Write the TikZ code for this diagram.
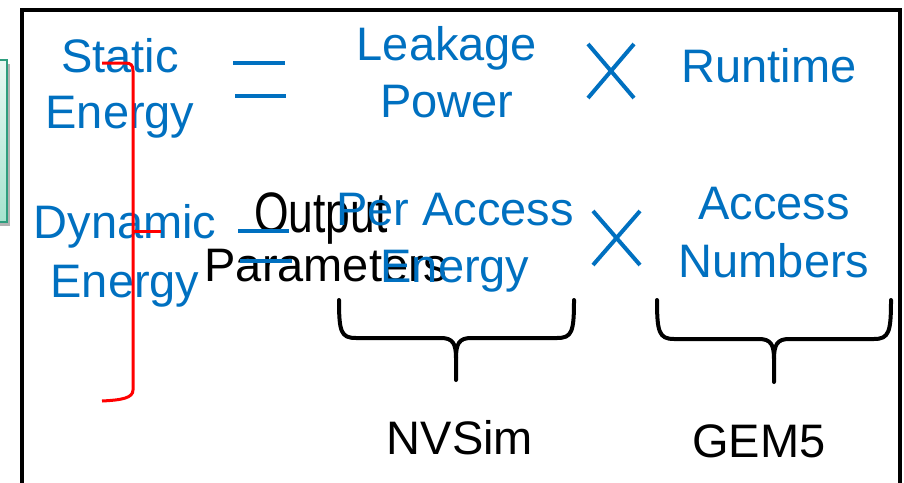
\documentclass[tikz,border=0pt]{standalone}
\usepackage{fontspec}
\setmainfont{Liberation Sans}
\definecolor{myblue}{HTML}{0070C0}
\definecolor{boxtop}{HTML}{E9F9F3}
\definecolor{boxbot}{HTML}{A6E3CE}
\definecolor{boxline}{HTML}{2E9E7E}
\begin{document}
\begin{tikzpicture}[x=1pt,y=-1pt,
  btext/.style={text=myblue, font=\fontsize{47}{56}\selectfont, inner sep=0pt, anchor=base},
  ktext/.style={text=black, font=\fontsize{47}{56}\selectfont, inner sep=0pt, anchor=base},
  bline/.style={draw=myblue, line width=4.5pt},
  bcross/.style={draw=myblue, line width=4pt},
  brace/.style={draw=black, line width=4pt, line cap=round, line join=round},
  redb/.style={draw=red, line width=3pt}]
\useasboundingbox (0,0) rectangle (904,482);
\clip (0,0) rectangle (904,482);
% green box (partly visible)
\fill[gray!60] (-20,64) rectangle (10,226);
\shade[top color=boxtop, bottom color=boxbot, draw=boxline, line width=1.5pt] (-20,60) rectangle (7,222);
% frame
\draw[line width=4pt] (22,520) -- (22,10) -- (900,10) -- (900,520);
% black texts
\node[ktext, font=\fontsize{57}{60}\selectfont] (out1) at (321,232) {\scalebox{0.78}[1]{Output}};
\node[ktext] (out2) at (326,281) {Parameters};
\node[ktext] (nvsim) at (460,454) {NVSim};
\node[ktext] (gem) at (759,457) {GEM5};
% braces
\coordinate (b1l) at (339,300);
\coordinate (b1r) at (574,300);
\coordinate (b1t) at (456,380);
\draw[brace] (b1l) .. controls (339,332) and (341,338) .. (356,338) -- (441,338) .. controls (453,338) and (456,344) .. (456,358) -- (b1t);
\draw[brace] (b1r) .. controls (574,332) and (572,338) .. (557,338) -- (471,338) .. controls (459,338) and (456,344) .. (456,358);
\coordinate (b2l) at (657,300);
\coordinate (b2r) at (891,300);
\coordinate (b2t) at (774,382);
\draw[brace] (b2l) .. controls (657,332) and (659,339) .. (674,339) -- (759,339) .. controls (771,339) and (774,345) .. (774,359) -- (b2t);
\draw[brace] (b2r) .. controls (891,332) and (889,339) .. (874,339) -- (789,339) .. controls (777,339) and (774,345) .. (774,359);
% blue texts
\node[btext] (st1) at (120,72) {Static};
\node[btext] (st2) at (120,128) {Energy};
\node[btext] (dy1) at (125,238) {Dynamic};
\node[btext] (dy2) at (125,297) {Energy};
\node[btext] (lk1) at (447,60) {Leakage};
\node[btext] (lk2) at (447,117) {Power};
\node[btext] (rt) at (769,82) {Runtime};
\node[btext] (pa1) at (455,225) {Per Access};
\node[btext] (pa2) at (455,282) {Energy};
\node[btext] (ac1) at (774,219) {Access};
\node[btext] (ac2) at (774,277) {Numbers};
% equals signs
\coordinate (e1a) at (233,63); \coordinate (e1b) at (285,63);
\coordinate (e1c) at (235,96); \coordinate (e1d) at (286,96);
\draw[bline] (e1a) -- (e1b);
\draw[bline] (e1c) -- (e1d);
\coordinate (e2a) at (238,231); \coordinate (e2b) at (289,231);
\coordinate (e2c) at (240,261); \coordinate (e2d) at (292,261);
\draw[bline] (e2a) -- (e2b);
\draw[bline] (e2c) -- (e2d);
% multiplication crosses
\coordinate (x1a) at (588,44); \coordinate (x1b) at (634,98);
\coordinate (x1c) at (634,44); \coordinate (x1d) at (588,98);
\draw[bcross] (x1a) -- (x1b);
\draw[bcross] (x1c) -- (x1d);
\coordinate (x2a) at (593,211); \coordinate (x2b) at (640,265);
\coordinate (x2c) at (640,211); \coordinate (x2d) at (593,265);
\draw[bcross] (x2a) -- (x2b);
\draw[bcross] (x2c) -- (x2d);
% red bracket
\coordinate (rtop) at (102,63);
\coordinate (rbot) at (102,401);
\coordinate (rmid) at (161,231);
\draw[redb] (rtop) -- (125,63) .. controls (131,63) and (133,65) .. (133,71) -- (133,390) .. controls (133,398) and (122,400) .. (rbot);
\draw[redb] (133,231) -- (rmid);
\end{tikzpicture}
\end{document}
